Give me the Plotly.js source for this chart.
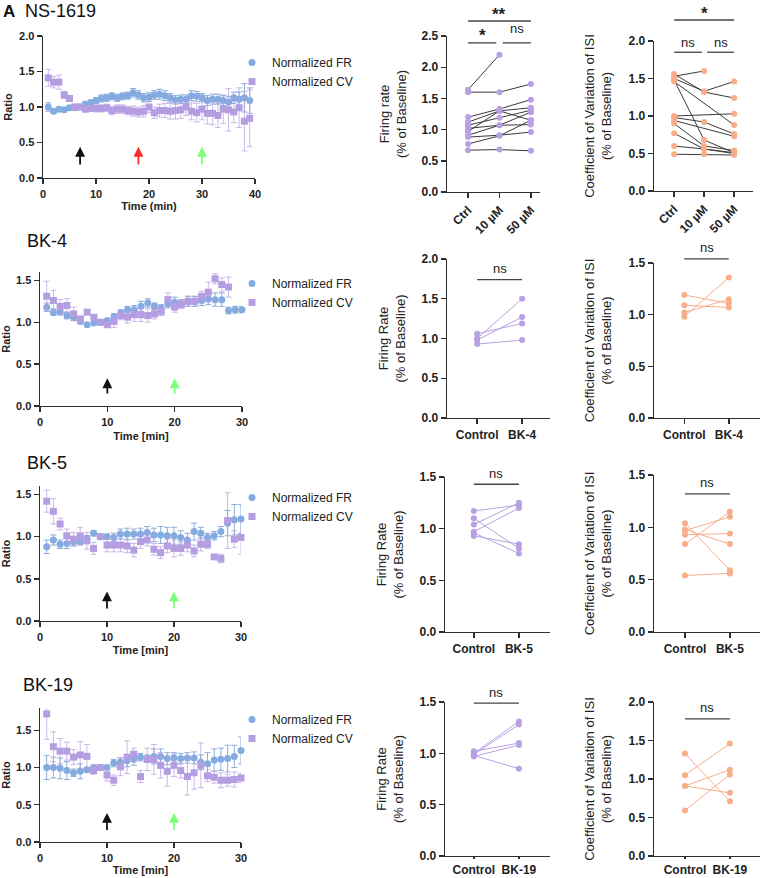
<!DOCTYPE html>
<html><head><meta charset="utf-8">
<script src="https://cdn.plot.ly/plotly-3.0.1.min.js"></script>
<style>html,body{margin:0;padding:0;background:#fff;}#chart{width:760px;height:878px;}</style>
</head><body><div id="chart"></div>
<script>
// ================= DATA =================
// NS-1619 time course (min)
const nsTime = [1,2,3,4,5,6,7,8,9,10,11,12,13,14,15,16,17,18,19,20,21,22,23,24,25,26,27,28,29,30,31,32,33,34,35,36,37,38,39];
const nsFR = [1.00,0.94,0.97,0.96,0.99,0.99,1.00,1.04,1.06,1.09,1.12,1.13,1.15,1.13,1.15,1.16,1.20,1.17,1.13,1.14,1.17,1.18,1.16,1.13,1.10,1.11,1.11,1.16,1.15,1.13,1.09,1.11,1.11,1.09,1.07,1.13,1.11,1.13,1.09];
const nsFRerr = [0.06,0.03,0.03,0.03,0.03,0.03,0.03,0.04,0.04,0.04,0.05,0.05,0.05,0.05,0.05,0.05,0.06,0.06,0.06,0.06,0.06,0.07,0.07,0.06,0.06,0.06,0.06,0.07,0.07,0.06,0.07,0.07,0.07,0.07,0.08,0.08,0.10,0.20,0.18];
const nsCV = [1.41,1.35,1.35,1.17,1.12,1.00,1.00,0.97,0.98,0.98,0.98,0.99,0.95,0.97,0.97,0.95,0.94,0.93,0.94,1.00,0.92,0.95,0.95,0.94,0.95,0.96,1.00,0.94,0.92,0.97,0.91,0.91,0.88,0.97,0.96,0.93,0.99,0.80,0.84];
const nsCVerr = [0.12,0.08,0.10,0.05,0.04,0.03,0.03,0.04,0.04,0.05,0.05,0.05,0.06,0.06,0.06,0.06,0.07,0.07,0.08,0.08,0.08,0.09,0.10,0.11,0.12,0.12,0.12,0.12,0.13,0.15,0.15,0.16,0.17,0.20,0.30,0.15,0.28,0.42,0.40];
const nsArrowTimes = [7,18,30];

// BK time courses (min)
const bkTime = [1,2,3,4,5,6,7,8,9,10,11,12,13,14,15,16,17,18,19,20,21,22,23,24,25,26,27,28,29,30];
const bk4CVTime = [1,2,3,4,5,6,7,8,9,10,11,12,13,14,15,16,17,18,19,20,21,22,23,24,25,26,27,28];
const bk4FR = [1.18,1.12,1.12,1.08,1.06,1.01,0.97,0.99,1.00,1.02,1.07,1.11,1.15,1.15,1.19,1.23,1.19,1.17,1.22,1.24,1.22,1.25,1.25,1.26,1.28,1.27,1.27,1.14,1.15,1.15];
const bk4FRerr = [0.05,0.04,0.03,0.04,0.04,0.02,0.01,0.02,0.01,0.02,0.03,0.04,0.04,0.05,0.06,0.05,0.04,0.04,0.05,0.06,0.05,0.06,0.06,0.06,0.07,0.08,0.08,0.04,0.04,0.04];
const bk4CV = [1.31,1.26,1.19,1.20,1.10,1.04,1.12,1.06,1.00,0.97,1.01,1.08,1.06,1.09,1.09,1.08,1.10,1.13,1.27,1.18,1.22,1.25,1.25,1.31,1.36,1.52,1.45,1.42];
const bk4CVerr = [0.18,0.12,0.08,0.08,0.08,0.02,0.02,0.02,0.02,0.03,0.07,0.05,0.07,0.08,0.08,0.08,0.06,0.05,0.08,0.06,0.05,0.06,0.06,0.06,0.12,0.06,0.08,0.12];

const bk5FR = [0.88,0.96,0.91,0.92,0.94,0.94,0.98,1.04,1.00,1.00,0.99,1.03,1.03,1.03,1.03,1.05,1.02,1.02,1.01,1.01,0.99,0.96,1.06,1.04,0.99,1.01,1.06,1.16,1.20,1.21];
const bk5FRerr = [0.08,0.06,0.05,0.06,0.05,0.04,0.03,0.03,0.01,0.03,0.05,0.06,0.07,0.06,0.07,0.07,0.08,0.10,0.10,0.10,0.08,0.08,0.10,0.07,0.05,0.05,0.06,0.15,0.18,0.17];
const bk5CV = [1.42,1.30,1.15,1.01,0.97,1.01,0.95,0.86,1.00,0.90,0.90,0.90,0.89,0.84,0.94,0.96,0.85,0.81,0.89,0.86,0.86,0.90,0.83,0.91,0.91,0.76,0.74,1.19,0.97,0.99];
const bk5CVerr = [0.13,0.15,0.07,0.08,0.08,0.10,0.10,0.07,0.01,0.08,0.08,0.08,0.08,0.08,0.08,0.07,0.07,0.07,0.08,0.10,0.08,0.08,0.07,0.08,0.05,0.02,0.05,0.33,0.10,0.20];

const bk19FR = [1.00,1.00,0.99,0.96,0.93,0.95,0.97,1.00,1.00,1.00,1.06,1.07,1.09,1.11,1.14,1.12,1.15,1.15,1.12,1.13,1.12,1.13,1.13,1.07,1.05,1.10,1.11,1.12,1.15,1.23];
const bk19FRerr = [0.16,0.14,0.14,0.12,0.05,0.10,0.03,0.03,0.01,0.03,0.05,0.06,0.08,0.08,0.05,0.05,0.10,0.10,0.08,0.07,0.07,0.07,0.08,0.10,0.15,0.15,0.15,0.18,0.15,0.18];
const bk19CV = [1.72,1.28,1.22,1.22,1.14,1.17,1.15,0.96,1.00,0.90,0.83,1.01,1.14,1.18,0.88,1.11,1.11,1.03,0.95,1.03,0.96,0.88,0.93,1.03,0.89,0.87,0.83,0.83,0.84,0.86];
const bk19CVerr = [0.34,0.20,0.17,0.12,0.10,0.18,0.16,0.05,0.01,0.08,0.07,0.12,0.22,0.08,0.08,0.15,0.20,0.17,0.20,0.15,0.10,0.25,0.22,0.30,0.08,0.08,0.10,0.08,0.10,0.06];
const bkArrowTimes = [10,20];

// Paired comparisons (one row per cell)
const nsGroups = ['Ctrl','10 µM','50 µM'];
const nsPairFR = [[1.64,2.20,null],[1.60,1.60,1.73],[1.20,1.33,1.48],[1.12,1.30,1.35],[1.07,1.19,1.31],[1.02,1.07,1.28],[0.97,1.30,1.15],[0.91,1.07,1.08],[0.88,0.91,0.96],[0.77,0.90,1.15],[0.67,0.68,0.66]];
const nsPairCV = [[1.53,1.60,null],[1.50,1.33,1.46],[1.56,1.32,1.24],[1.48,0.68,0.51],[1.46,null,0.88],[1.00,null,1.03],[0.98,0.92,0.76],[0.94,null,0.73],[0.90,0.60,0.54],[0.77,0.56,0.51],[0.60,0.56,0.50],[0.49,0.49,0.48]];
const bk4Groups = ['Control','BK-4'];
const bk4PairFR = [[1.00,1.50],[0.98,1.27],[1.06,1.19],[0.93,0.98]];
const bk4PairCV = [[0.98,1.36],[1.02,1.15],[1.09,1.07],[1.19,1.11]];
const bk5Groups = ['Control','BK-5'];
const bk5PairFR = [[1.17,1.23],[1.10,0.81],[1.04,1.25],[0.97,1.20],[0.93,0.85],[0.96,0.76]];
const bk5PairCV = [[1.04,0.59],[0.97,1.10],[0.93,0.94],[0.84,1.15],[0.98,0.84],[0.54,0.56]];
const bk19Groups = ['Control','BK-19'];
const bk19PairFR = [[1.00,1.31],[0.99,1.28],[1.02,1.10],[0.97,1.08],[0.98,0.85]];
const bk19PairCV = [[1.33,0.71],[1.05,1.46],[0.91,1.12],[0.91,0.82],[0.59,1.06]];

const seriesNames = ['Normalized FR','Normalized CV'];
const panelTitles = ['NS-1619','BK-4','BK-5','BK-19'];
const timeTitles = ['Time (min)','Time [min]','Time [min]','Time [min]'];

// ================= STYLE / GEOMETRY =================
const W = 760, H = 878;
const FONT = "'Liberation Sans', Arial, Helvetica, sans-serif";
const INK = '#2e2e2e';
const C_FR = '#84abdf', C_CV = '#b59de2';
const C_FR_ERR = 'rgba(120,160,215,0.85)', C_CV_ERR = 'rgba(180,155,226,0.7)';
const C_PFR = '#b7a1e3', C_PCV = '#f8ae8b';
const arrowColorsNS = ['#111111','#ff2b2b','#7dff7a'];
const arrowColorsBK = ['#111111','#7dff7a'];

const rows = [
  { data:{time:nsTime,fr:nsFR,frErr:nsFRerr,cvTime:nsTime,cv:nsCV,cvErr:nsCVerr,arrows:nsArrowTimes,arrowColors:arrowColorsNS,groups:nsGroups,pFR:nsPairFR,pCV:nsPairCV,pLine:'#3a3a3a'},
    title:{x:23,y:11}, legendTop:48, arrowY:[0.17,0.44], xtl:5,
    t:{x:[43,255],y:[36,178],xr:[0,40],yr:[0,2],yt:[0,0.5,1,1.5,2],xt:[0,10,20,30,40],stand:0},
    fr:{x:[447,540],y:[36,192],xr:[-0.67,2.29],yr:[0,2.5],yt:[0,0.5,1,1.5,2,2.5],angle:-45,title:'Firing rate<br>(% of Baseline)',ts:12,
        sig:[{a:0,b:2,lv:2.74,t:'**',sz:17,sh:7},{a:0,b:0.9,lv:2.39,t:'*',sz:17,sh:7},{a:1.1,b:2,lv:2.39,t:'ns',sz:13,sh:14}]},
    cv:{x:[654,753],y:[41,191],xr:[-0.67,2.63],yr:[0,2],yt:[0,0.5,1,1.5,2],angle:-45,title:'Coefficient of Variation of ISI<br>(% of Baseline)',ts:14,
        sig:[{a:0,b:2,lv:2.28,t:'*',sz:17,sh:7},{a:0,b:0.93,lv:1.85,t:'ns',sz:13,sh:10},{a:1.1,b:2,lv:1.85,t:'ns',sz:13,sh:10}]} },
  { data:{time:bkTime,fr:bk4FR,frErr:bk4FRerr,cvTime:bk4CVTime,cv:bk4CV,cvErr:bk4CVerr,arrows:bkArrowTimes,arrowColors:arrowColorsBK,groups:bk4Groups,pFR:bk4PairFR,pCV:bk4PairCV,pLine:null},
    title:{x:25,y:241}, legendTop:269, arrowY:[0.13,0.33], xtl:5,
    t:{x:[40,242],y:[272,406],xr:[0,30],yr:[0,1.6],yt:[0,0.5,1,1.5],xt:[0,10,20,30],stand:5},
    fr:{x:[447,550],y:[259,418],xr:[-0.67,1.62],yr:[0,2],yt:[0,0.5,1,1.5,2],angle:0,title:'Firing Rate<br>(% of Baseline)',ts:13,
        sig:[{a:0,b:1,lv:1.74,t:'ns',sz:13,sh:11}]},
    cv:{x:[654,760],y:[263,418],xr:[-0.68,1.7],yr:[0,1.5],yt:[0,0.5,1,1.5],angle:0,title:'Coefficient of Variation of ISI<br>(% of Baseline)',ts:14,
        sig:[{a:0,b:1,lv:1.54,t:'ns',sz:13,sh:11}]} },
  { data:{time:bkTime,fr:bk5FR,frErr:bk5FRerr,cvTime:bkTime,cv:bk5CV,cvErr:bk5CVerr,arrows:bkArrowTimes,arrowColors:arrowColorsBK,groups:bk5Groups,pFR:bk5PairFR,pCV:bk5PairCV,pLine:null},
    title:{x:25,y:463}, legendTop:483, arrowY:[0.13,0.35], xtl:5,
    t:{x:[40,241],y:[486,621],xr:[0,30],yr:[0,1.6],yt:[0,0.5,1,1.5],xt:[0,10,20,30],stand:4},
    fr:{x:[445,550],y:[477,632],xr:[-0.64,1.69],yr:[0,1.5],yt:[0,0.5,1,1.5],angle:0,title:'Firing Rate<br>(% of Baseline)',ts:13,
        sig:[{a:0,b:1,lv:1.43,t:'ns',sz:13,sh:11}]},
    cv:{x:[654,760],y:[475,632],xr:[-0.69,1.67],yr:[0,1.5],yt:[0,0.5,1,1.5],angle:0,title:'Coefficient of Variation of ISI<br>(% of Baseline)',ts:14,
        sig:[{a:0,b:1,lv:1.32,t:'ns',sz:13,sh:11}]} },
  { data:{time:bkTime,fr:bk19FR,frErr:bk19FRerr,cvTime:bkTime,cv:bk19CV,cvErr:bk19CVerr,arrows:bkArrowTimes,arrowColors:arrowColorsBK,groups:bk19Groups,pFR:bk19PairFR,pCV:bk19PairCV,pLine:null},
    title:{x:21,y:685}, legendTop:705, arrowY:[0.14,0.39], xtl:2,
    t:{x:[40,241],y:[708,842],xr:[0,30],yr:[0,1.8],yt:[0,0.5,1,1.5],xt:[0,10,20,30],stand:3},
    fr:{x:[445,550],y:[702,856],xr:[-0.64,1.69],yr:[0,1.5],yt:[0,0.5,1,1.5],angle:0,title:'Firing Rate<br>(% of Baseline)',ts:13,
        sig:[{a:0,b:1,lv:1.49,t:'ns',sz:13,sh:11}]},
    cv:{x:[654,760],y:[702,856],xr:[-0.69,1.67],yr:[0,2],yt:[0,0.5,1,1.5,2],angle:0,title:'Coefficient of Variation of ISI<br>(% of Baseline)',ts:14,
        sig:[{a:0,b:1,lv:1.78,t:'ns',sz:13,sh:11}]} }
];

// ================= BUILD =================
const sfx = n => (n === 1 ? '' : String(n));
const xdom = p => [p[0] / W, p[1] / W];
const ydom = p => [1 - p[1] / H, 1 - p[0] / H];

function baseAxis(fs) {
  return { showline:true, linecolor:INK, linewidth:1.4, ticks:'outside', ticklen:5, tickwidth:1.4, tickcolor:INK,
           showgrid:false, zeroline:false, fixedrange:true, automargin:false,
           tickfont:{family:FONT, size:fs, color:'#222', weight:'bold'} };
}

const traces = [];
const layout = {
  width:W, height:H, margin:{l:0,r:0,t:0,b:0,autoexpand:false},
  paper_bgcolor:'#ffffff', plot_bgcolor:'rgba(0,0,0,0)',
  font:{family:FONT, color:'#222'}, showlegend:true,
  annotations:[], shapes:[]
};

// panel letter (top-left)
layout.annotations.push({xref:'paper',yref:'paper',x:1/W,y:1-11/H,xanchor:'left',yanchor:'middle',text:'A',showarrow:false,
  font:{family:FONT,size:17,color:'#111',weight:'bold'}});

rows.forEach((r, i) => {
  const nT = 3*i + 1, nF = 3*i + 2, nC = 3*i + 3;
  const lg = 'legend' + sfx(i + 1);
  const d = r.data;

  // ---- time course ----
  traces.push({type:'scatter', mode:'markers', name:seriesNames[0], legend:lg, x:d.time, y:d.fr,
    xaxis:'x'+sfx(nT), yaxis:'y'+sfx(nT), cliponaxis:false,
    marker:{symbol:'circle', size:7, color:C_FR},
    error_y:{type:'data', array:d.frErr, visible:true, color:C_FR_ERR, thickness:1, width:3}});
  traces.push({type:'scatter', mode:'markers', name:seriesNames[1], legend:lg, x:d.cvTime, y:d.cv,
    xaxis:'x'+sfx(nT), yaxis:'y'+sfx(nT), cliponaxis:false,
    marker:{symbol:'square', size:7, color:C_CV},
    error_y:{type:'data', array:d.cvErr, visible:true, color:C_CV_ERR, thickness:1, width:3}});

  layout['xaxis'+sfx(nT)] = Object.assign(baseAxis(11), {domain:xdom(r.t.x), range:r.t.xr, tickvals:r.t.xt, anchor:'y'+sfx(nT),
    title:{text:timeTitles[i], font:{family:FONT,size:11,color:'#222',weight:'bold'}, standoff:r.t.stand}});
  layout['yaxis'+sfx(nT)] = Object.assign(baseAxis(11), {domain:ydom(r.t.y), range:r.t.yr, tickvals:r.t.yt, tickformat:'.1f', anchor:'x'+sfx(nT),
    title:{text:'Ratio', font:{family:FONT,size:11,color:'#222',weight:'bold'}, standoff:4}});

  layout[lg] = {x:232/W, y:1 - r.legendTop/H, xanchor:'left', yanchor:'top', bgcolor:'rgba(0,0,0,0)',
    font:{family:FONT, size:12, color:'#222'}, tracegroupgap:0, borderwidth:0};

  d.arrows.forEach((t, k) => {
    layout.annotations.push({xref:'x'+sfx(nT), yref:'y'+sfx(nT), axref:'x'+sfx(nT), ayref:'y'+sfx(nT),
      x:t, y:r.arrowY[1], ax:t, ay:r.arrowY[0], text:'', showarrow:true,
      arrowhead:2, arrowsize:1.1, arrowwidth:1.8, arrowcolor:d.arrowColors[k]});
  });

  layout.annotations.push({xref:'paper', yref:'paper', x:r.title.x/W, y:1 - r.title.y/H, xanchor:'left', yanchor:'middle',
    text:panelTitles[i], showarrow:false, font:{family:FONT, size:18, color:'#111'}});

  // ---- paired panels ----
  [[nF, r.fr, d.pFR, C_PFR], [nC, r.cv, d.pCV, C_PCV]].forEach(([n, g, subj, col]) => {
    subj.forEach(s => {
      traces.push({type:'scatter', mode:'lines+markers', showlegend:false, connectgaps:true,
        x:d.groups.slice(0, s.length), y:s, xaxis:'x'+sfx(n), yaxis:'y'+sfx(n), cliponaxis:false,
        line:{color: d.pLine || col, width:1}, marker:{size:6, color:col}});
    });
    layout['xaxis'+sfx(n)] = Object.assign(baseAxis(12), {type:'category', domain:xdom(g.x), range:g.xr, anchor:'y'+sfx(n),
      tickangle:g.angle, categoryorder:'array', categoryarray:d.groups, ticklen:r.xtl});
    layout['yaxis'+sfx(n)] = Object.assign(baseAxis(12), {domain:ydom(g.y), range:g.yr, tickvals:g.yt, tickformat:'.1f', anchor:'x'+sfx(n),
      title:{text:g.title, font:{family:FONT, size:13, color:'#222'}, standoff:g.ts}});
    const span = g.xr[1] - g.xr[0];
    g.sig.forEach(s => {
      const x0 = (s.a - g.xr[0]) / span, x1 = (s.b - g.xr[0]) / span, yy = s.lv / g.yr[1];
      layout.shapes.push({type:'line', xref:'x'+sfx(n)+' domain', yref:'y'+sfx(n)+' domain',
        x0:x0, x1:x1, y0:yy, y1:yy, line:{color:'#444', width:1.3}});
      layout.annotations.push({xref:'x'+sfx(n)+' domain', yref:'y'+sfx(n)+' domain', x:(x0 + x1) / 2, y:yy,
        yshift:s.sh, xanchor:'center', yanchor:'middle', text:s.t, showarrow:false,
        font:{family:FONT, size:s.sz, color:'#222', weight: s.t === 'ns' ? 'normal' : 'bold'}});
    });
  });
});

Plotly.newPlot('chart', traces, layout, {staticPlot:true, displayModeBar:false});
</script>
</body></html>
